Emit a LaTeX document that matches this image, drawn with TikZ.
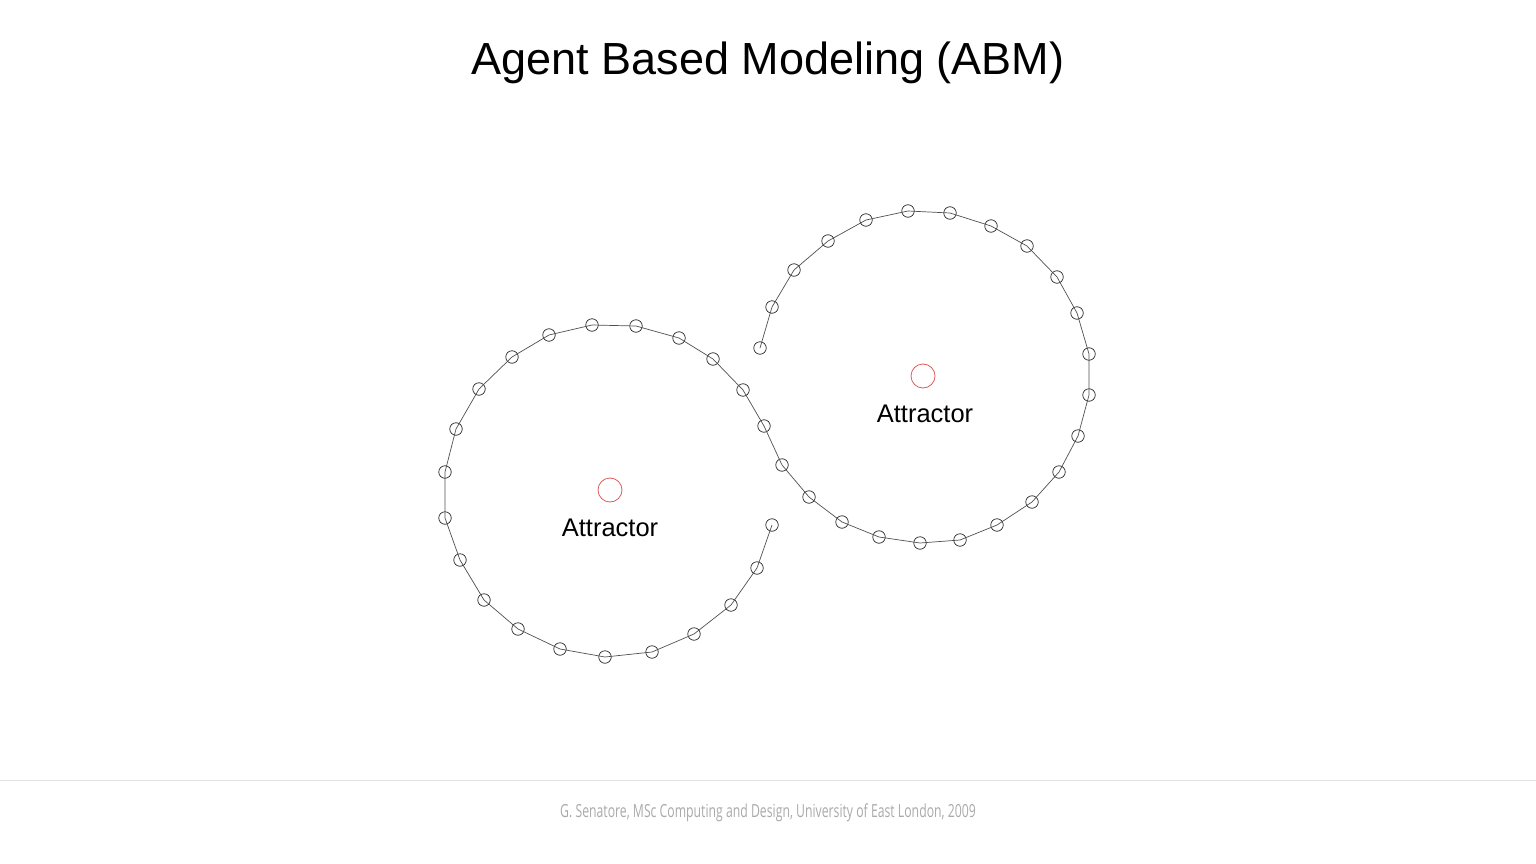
\documentclass[tikz,border=0pt]{standalone}
\usepackage{fontspec}
\setmainfont{Liberation Sans}
\newfontfamily\footfont[FakeStretch=0.68]{Open Sans}
\usetikzlibrary{positioning}
\definecolor{attcolor}{RGB}{222,92,92}
\definecolor{trailcolor}{RGB}{80,80,80}
\definecolor{footcolor}{RGB}{170,170,170}
\definecolor{rulecolor}{RGB}{226,226,226}

\begin{document}
\begin{tikzpicture}[
    x=1pt, y=-1pt,
    agent/.style={draw=black!85, line width=0.7pt, circle, minimum size=12.5pt, inner sep=0pt},
    attractor/.style={draw=attcolor, line width=0.8pt, circle, minimum size=24pt, inner sep=0pt},
    attlabel/.style={font=\fontsize{25.5}{30}\selectfont, inner sep=0pt},
    trail/.style={draw=trailcolor, line width=0.7pt}
]
    \useasboundingbox[fill=white] (0,0) rectangle (1536,864);

    % Title
    \node[font=\fontsize{45}{52}\selectfont, inner sep=0pt] (title) at (768,63) {Agent Based Modeling (ABM)};

    % Agents along the trail
    \foreach \x/\y [count=\i] in {760/348, 772/307, 794/270, 828/241, 866/220, 908/211, 950/213, 991/226,
        1027/246, 1057/277, 1077/313, 1089/354, 1089/395, 1078/436, 1059/472, 1032/502, 997/525,
        960/540, 920/543, 879/537, 842/522, 809/497, 782/465, 764/426, 743/390, 713/359, 679/338,
        636/326, 592/325, 549/335, 512/357, 479/389, 456/429, 445/472, 445/518, 460/560, 484/600,
        518/629, 560/649, 605/657, 652/652, 694/634, 731/605, 757/568, 772/525}
        \node[agent] (a\i) at (\x,\y) {};

    % Trail
    \draw[trail] (a1.center) foreach \i in {2,...,45} { -- (a\i.center) };

    % Attractors
    \node[attractor] (att1) at (610,490) {};
    \node[attractor] (att2) at (923,376) {};
    \node[attlabel] (lab1) at (610,528) {Attractor};
    \node[attlabel] (lab2) at (925,414) {Attractor};

    % Footer
    \draw[rulecolor, line width=1pt] (0,780) -- (1536,780);
    \node[font=\footfont\fontsize{18}{22}\selectfont, text=footcolor, inner sep=0pt] (foot) at (768,813)
        {G. Senatore, MSc Computing and Design, University of East London, 2009};
\end{tikzpicture}
\end{document}
